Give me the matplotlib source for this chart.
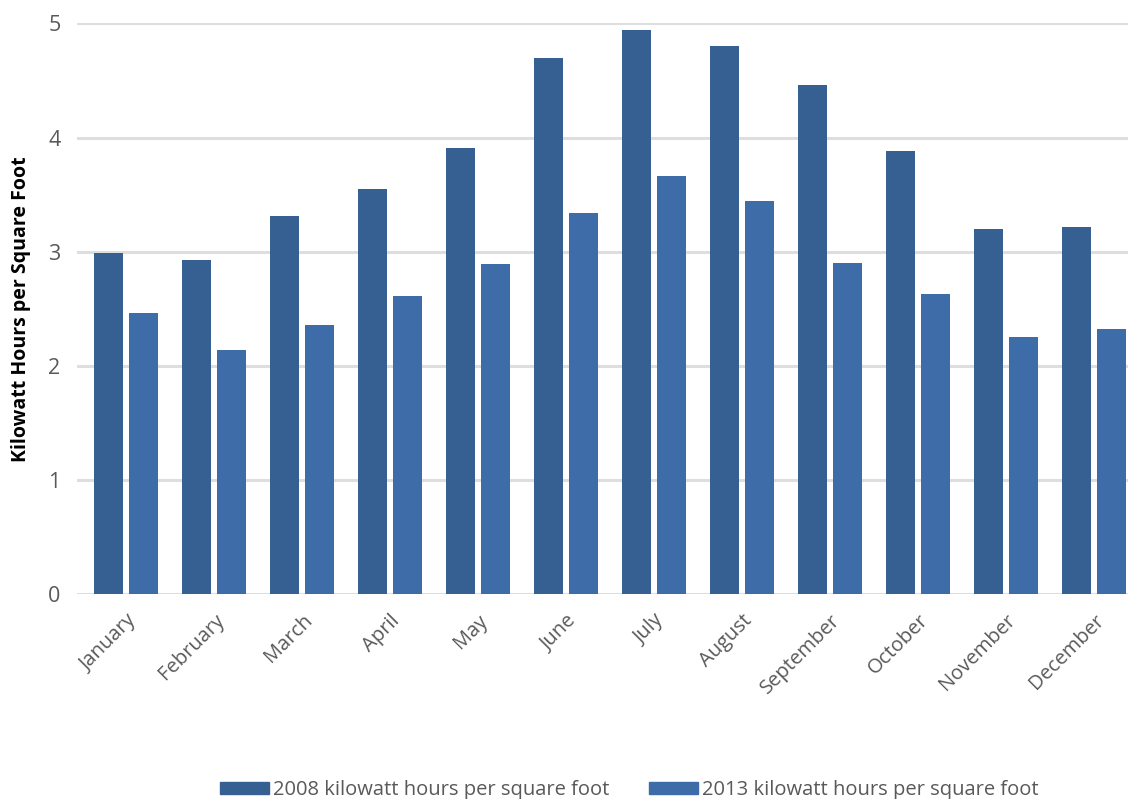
import matplotlib.pyplot as plt
import numpy as np
from matplotlib.patches import Patch

months = ["January", "February", "March", "April", "May", "June", "July",
          "August", "September", "October", "November", "December"]
kwh_2008 = [2.99, 2.93, 3.31, 3.55, 3.91, 4.70, 4.94, 4.80, 4.46, 3.88, 3.20, 3.22]
kwh_2013 = [2.46, 2.14, 2.36, 2.61, 2.89, 3.34, 3.66, 3.44, 2.90, 2.63, 2.25, 2.32]
labels = ["2008 kilowatt hours per square foot", "2013 kilowatt hours per square foot"]

c2008 = "#356091"
c2013 = "#3d6ca8"
grey = "#595959"

plt.rcParams['font.family'] = ['Open Sans', 'DejaVu Sans']

fig = plt.figure(figsize=(11.28, 7.99), dpi=100)
ax = fig.add_axes([0.0683, 0.2566, 0.9317, 0.714])

x = np.arange(len(months))
w = 0.33
ax.bar(x - 0.199, kwh_2008, width=w, color=c2008, zorder=3)
ax.bar(x + 0.199, kwh_2013, width=w, color=c2013, zorder=3)

ax.set_xlim(-0.557, 11.39)
ax.set_ylim(0, 5)
ax.set_yticks(range(6))
ax.yaxis.grid(True, color="#dedede", linewidth=2.2, zorder=0)
for s in ax.spines.values():
    s.set_visible(False)
ax.tick_params(length=0)
ax.tick_params(axis='y', labelsize=15.5, labelcolor=grey, pad=12)
ax.set_xticks(x)
ax.set_xticklabels(months, rotation=45, ha='right', rotation_mode='anchor',
                   fontsize=14.5, color=grey)
ax.tick_params(axis='x', pad=12)

ax.set_ylabel("Kilowatt Hours per Square Foot", fontsize=14, fontweight='bold',
              color='black', labelpad=12)

handles = [Patch(color=c2008), Patch(color=c2013)]
fig.legend(handles, labels, loc='lower center', bbox_to_anchor=(0.558, -0.024),
           ncol=2, frameon=False, fontsize=14.5, labelcolor=grey,
           handlelength=2.4, handleheight=0.55, handletextpad=0.2, columnspacing=2.0)

fig.savefig("out.png", dpi=100)
